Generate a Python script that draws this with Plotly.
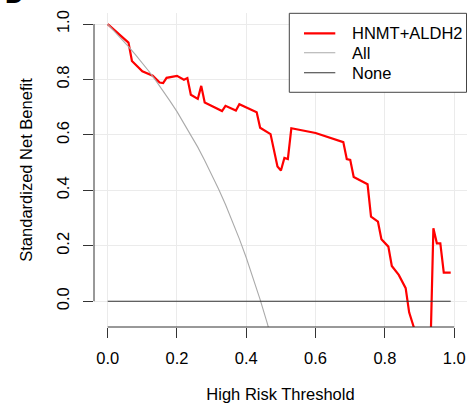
import plotly.graph_objects as go

# Thresholds and standardized net benefit
model_x = [0.00, 0.06, 0.07, 0.10, 0.13, 0.15, 0.16, 0.17, 0.20, 0.22, 0.23, 0.24, 0.26, 0.27, 0.28,
           0.33, 0.34, 0.37, 0.38, 0.43, 0.44, 0.47, 0.49, 0.50, 0.51, 0.52, 0.53, 0.60, 0.68, 0.69,
           0.70, 0.71, 0.75, 0.76, 0.78, 0.79, 0.81, 0.82, 0.84, 0.86, 0.87, 0.89, 0.93, 0.94, 0.95,
           0.96, 0.97, 0.99]
model_y = [1.000, 0.933, 0.867, 0.830, 0.814, 0.789, 0.787, 0.806, 0.813, 0.799, 0.805, 0.745, 0.730,
           0.777, 0.717, 0.686, 0.705, 0.688, 0.711, 0.682, 0.626, 0.603, 0.486, 0.472, 0.517, 0.513,
           0.624, 0.607, 0.574, 0.513, 0.510, 0.448, 0.422, 0.305, 0.287, 0.224, 0.197, 0.127, 0.095,
           0.047, -0.040, -0.120, -0.250, 0.263, 0.209, 0.209, 0.103, 0.103]

all_x = [0.00, 0.02, 0.04, 0.06, 0.08, 0.10, 0.12, 0.14, 0.16, 0.18, 0.20, 0.22, 0.24, 0.26,
         0.28, 0.30, 0.32, 0.34, 0.36, 0.38, 0.40, 0.42, 0.44, 0.46, 0.48]
all_y = [1.000, 0.974, 0.947, 0.919, 0.890, 0.860, 0.828, 0.794, 0.759, 0.722, 0.684, 0.643, 0.601,
         0.556, 0.508, 0.458, 0.405, 0.349, 0.289, 0.225, 0.157, 0.084, 0.006, -0.077, -0.167]

none_x = [0.00, 0.99]
none_y = [0.0, 0.0]

series_names = ["HNMT+ALDH2", "All", "None"]
series_colors = ["#FF0000", "#AAAAAA", "#333333"]
series_widths = [2.2, 1.1, 1.1]

tick_vals = [0.0, 0.2, 0.4, 0.6, 0.8, 1.0]
tick_text = ["0.0", "0.2", "0.4", "0.6", "0.8", "1.0"]

FONT = "Liberation Sans, Arial, Helvetica, sans-serif"
FS = 16.5

fig = go.Figure()
for xs, ys, nm, col, w in zip([model_x, all_x, none_x], [model_y, all_y, none_y],
                              series_names, series_colors, series_widths):
    fig.add_trace(go.Scatter(x=xs, y=ys, mode="lines", name=nm,
                             line=dict(color=col, width=w), showlegend=False))

# R-style axis lines spanning only 0..1
fig.add_shape(type="line", xref="x", yref="paper", x0=0, x1=1, y0=0, y1=0,
              line=dict(color="#333333", width=1))
fig.add_shape(type="line", xref="paper", yref="y", x0=0, x1=0, y0=0, y1=1,
              line=dict(color="#333333", width=1))

# R-style legend box (top right)
fig.add_shape(type="rect", xref="paper", yref="paper", x0=0.5236, x1=0.9987,
              y0=0.7475, y1=0.999, line=dict(color="#444444", width=1),
              fillcolor="white", layer="above")
row_y = [0.9354, 0.8736, 0.8099]
for nm, col, w, ry in zip(series_names, series_colors, series_widths, row_y):
    fig.add_shape(type="line", xref="paper", yref="paper", x0=0.563, x1=0.6469,
                  y0=ry, y1=ry, line=dict(color=col, width=w), layer="above")
    fig.add_annotation(text=nm, xref="paper", yref="paper", x=0.6863, y=ry,
                       xanchor="left", yanchor="middle", showarrow=False,
                       font=dict(family=FONT, size=FS, color="black"))

fig.add_annotation(text="<b>D</b>", xref="paper", yref="paper", x=-0.244, y=1.0,
                   xanchor="left", yanchor="bottom", yshift=2, showarrow=False,
                   font=dict(family=FONT, size=26, color="black"))

fig.update_layout(
    width=467, height=406,
    margin=dict(l=94, r=0, t=13, b=79, autoexpand=False),
    paper_bgcolor="white", plot_bgcolor="white",
    font=dict(family=FONT, size=FS, color="black"),
    showlegend=False,
    xaxis=dict(range=[-0.0395, 1.037], tickvals=tick_vals, ticktext=tick_text,
               showgrid=True, gridcolor="#EBEBEB", gridwidth=1, zeroline=False,
               showline=False, ticks="outside", ticklen=10, tickcolor="#333333",
               ticklabelstandoff=6, automargin=False,
               title=dict(text="High Risk Threshold", standoff=22,
                          font=dict(family=FONT, size=FS))),
    yaxis=dict(range=[-0.093, 1.04], tickvals=tick_vals, ticktext=tick_text,
               showgrid=True, gridcolor="#EBEBEB", gridwidth=1, zeroline=False,
               showline=False, ticks="outside", ticklen=10, tickcolor="#333333",
               tickangle=-90, ticklabelstandoff=7, automargin=False,
               title=dict(text="Standardized Net Benefit", standoff=17,
                          font=dict(family=FONT, size=FS))),
)

fig.write_html("out.html", config={"displayModeBar": False},
               post_script="document.body.style.margin='0';")
